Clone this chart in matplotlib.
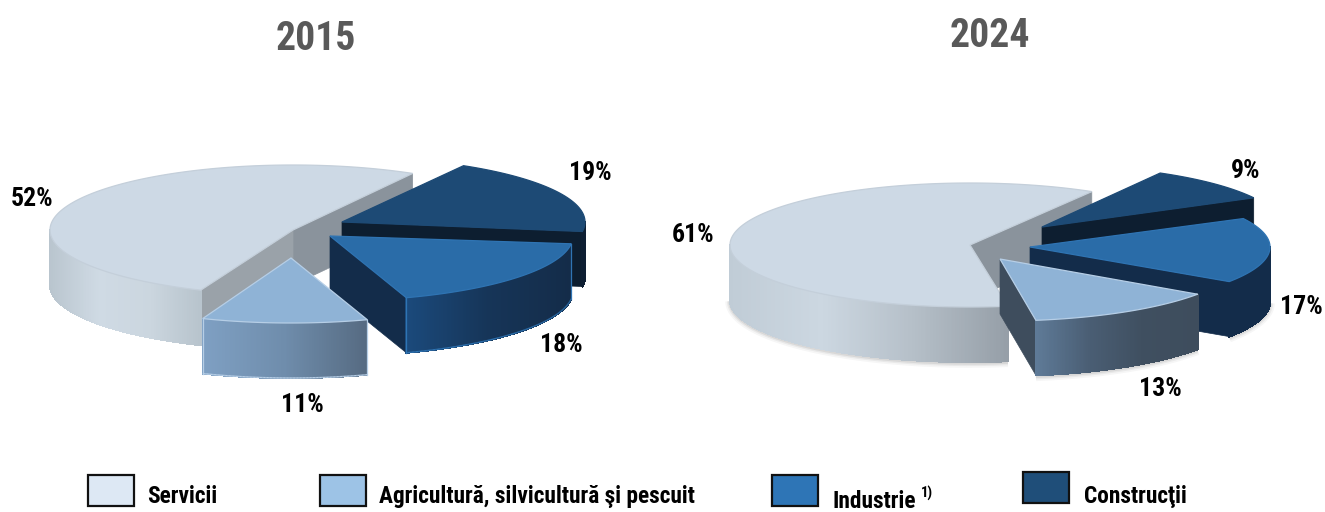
import numpy as np
import matplotlib
matplotlib.use("Agg")
import matplotlib.pyplot as plt
from matplotlib.collections import PolyCollection, LineCollection
from matplotlib.colors import LinearSegmentedColormap
from matplotlib.patches import Polygon, Rectangle

# ---- data ----
categories = ["Servicii", "Agricultură, silvicultură şi pescuit", "Industrie", "Construcţii"]
share_2015 = [52, 11, 18, 19]
share_2024 = [61, 13, 17, 9]
titles = ["2015", "2024"]
footnote = "1)"

# ---- layout / style ----
plt.rcParams["font.family"] = ["Roboto Condensed", "Liberation Sans", "DejaVu Sans"]
legend_colors = ["#dde8f4", "#9dc3e6", "#2e75b6", "#1f4e79"]
top_colors = ["#cdd9e5", "#8fb3d6", "#2a6ca8", "#1d4a75"]
top_edges = ["#c4cfda", "#b6cee6", "#2f74b3", "#1d4a75"]

pies = [
    dict(values=share_2015, center=(293, 230), rx=243, ry=65, depth=55, start=60.5,
         offsets=[(0, 0), (-2, 28), (37, 6), (49, -8)],
         nudges=[0, 1, 1, -0.5],
         sides=[["#b9c5ce", "#cfdae4", "#cbd6df", "#b8c4cd"],
                ["#7fa0c3", "#6f8dac", "#566b82"],
                ["#1b4a7c", "#163558", "#142c49"],
                ["#0e1f33", "#0e1f33"]],
         walls=[("#8a939c", "#9aa2a9"), ("#7fa0c3", "#566b82"),
                ("#132c4a", "#132c4a"), ("#0d1e30", "#0d1e30")],
         side_edges=[None, "#b6cee6", "#2f74b3", None],
         shadow=False,
         title_xy=(316, 39),
         label_xy=[(32, 199.5), (302, 405.5), (561, 345.5), (590, 173.5)]),
    dict(values=share_2024, center=(970, 245), rx=240, ry=62, depth=55, start=59,
         offsets=[(0, 0), (30, 14), (60, 2), (72, -18)],
         nudges=[0.5, 0, 0.7, 1.5],
         sides=[["#c0ccd6", "#ccd7e1", "#b5bfc8", "#969fa8"],
                ["#5f7b98", "#4a5e74", "#3f4f60", "#3e4d5d"],
                ["#132c4a", "#132c4a"],
                ["#0e1f33", "#0e1f33"]],
         walls=[("#8a939c", "#8a939c"), ("#3e4d5d", "#3e4d5d"),
                ("#132c4a", "#132c4a"), ("#0d1e30", "#0d1e30")],
         side_edges=[None, None, None, None],
         shadow=True,
         title_xy=(990, 36),
         label_xy=[(693, 235.5), (1160, 388.5), (1301, 307.5), (1246, 171.5)]),
]

legend_boxes = [(88, 475), (320, 475), (772, 475), (1023, 472)]
legend_text = [(147, 496.5), (379, 496.5), (832, 501.5), (1084, 496.5)]
BOX_W, BOX_H = 46, 31

fig = plt.figure(figsize=(13.25, 5.12), dpi=100, facecolor="white")
ax = fig.add_axes([0, 0, 1, 1])
ax.set_xlim(0, 1325)
ax.set_ylim(512, 0)
ax.axis("off")


def rim(cx, cy, rx, ry, deg):
    t = np.radians(deg)
    return cx + rx * np.cos(t), cy - ry * np.sin(t)


def draw_slice(cx, cy, rx, ry, depth, a0, a1, side_cols, wall_cols, top_col, edge_col,
               side_edge, shadow, z):
    angs = np.linspace(a0, a1, max(int((a1 - a0) * 3), 8))
    xs, ys = rim(cx, cy, rx, ry, angs)
    front = np.sin(np.radians(angs)) <= 0
    # faint soft shadow under the front rim
    if shadow and front.sum() > 1:
        for lw, alpha in ((7, 0.035), (4.5, 0.05), (2.5, 0.07)):
            ax.plot(xs[front], ys[front] + depth + 1, color="black", lw=lw, alpha=alpha,
                    solid_capstyle="butt", zorder=z - 0.1)
    # cut walls, only those that face the viewer
    for ang, visible, col in ((a0, np.cos(np.radians(a0)) > 0, wall_cols[0]),
                              (a1, np.cos(np.radians(a1)) < 0, wall_cols[1])):
        if visible:
            x, y = rim(cx, cy, rx, ry, ang)
            ax.add_patch(Polygon([(cx, cy), (x, y), (x, y + depth), (cx, cy + depth)],
                                 closed=True, fc=col, ec=col, lw=0.5, zorder=z))
    # outer rim with a horizontal gradient
    if front.sum() > 1:
        cmap = LinearSegmentedColormap.from_list("side", side_cols)
        fx, fy = xs[front], ys[front]
        lo, hi = fx.min(), fx.max()
        quads, cols, bottom = [], [], []
        for i in range(len(fx) - 1):
            quads.append([(fx[i], fy[i]), (fx[i + 1], fy[i + 1]),
                          (fx[i + 1], fy[i + 1] + depth), (fx[i], fy[i] + depth)])
            cols.append(cmap(((fx[i] + fx[i + 1]) / 2 - lo) / max(hi - lo, 1)))
            bottom.append([(fx[i], fy[i] + depth), (fx[i + 1], fy[i + 1] + depth)])
        ax.add_collection(PolyCollection(quads, facecolors=cols, edgecolors=cols,
                                         linewidths=0.8, antialiaseds=False, zorder=z + 0.1))
        ax.add_collection(LineCollection(bottom, colors=side_edge or cols, linewidths=1.0,
                                         zorder=z + 0.15))
        if side_edge:
            for j in (0, -1):
                ax.plot([fx[j], fx[j]], [fy[j], fy[j] + depth], color=side_edge, lw=0.9,
                        zorder=z + 0.15)
    # top face
    ax.add_patch(Polygon(np.column_stack([np.r_[cx, xs], np.r_[cy, ys]]), closed=True,
                         fc=top_col, ec=edge_col, lw=0.9, zorder=z + 0.2))


def draw_pie(p, base_z):
    vals = np.array(p["values"], float)
    sweep = vals / vals.sum() * 360
    edges = p["start"] + np.r_[0, np.cumsum(sweep)]
    # back to front: services, construction, industry, agriculture
    for rank, i in enumerate((0, 3, 2, 1)):
        dx, dy = p["offsets"][i]
        nudge = p["nudges"][i]
        draw_slice(p["center"][0] + dx, p["center"][1] + dy, p["rx"], p["ry"], p["depth"],
                   edges[i] + nudge, edges[i + 1] + nudge, p["sides"][i], p["walls"][i],
                   top_colors[i], top_edges[i], p["side_edges"][i], p["shadow"], base_z + rank)
    for v, (lx, ly) in zip(p["values"], p["label_xy"]):
        ax.text(lx, ly, f"{v}%", ha="center", va="center", fontsize=18.5,
                fontweight="bold", color="black", zorder=20)


for k, (p, title) in enumerate(zip(pies, titles)):
    draw_pie(p, 2 + k * 5)
    ax.text(*p["title_xy"], title, ha="center", va="center", fontsize=28.5,
            fontweight="bold", color="#595959", zorder=20)

for name, col, (bx, by), (tx, ty) in zip(categories, legend_colors, legend_boxes, legend_text):
    ax.add_patch(Rectangle((bx, by), BOX_W, BOX_H, fc=col, ec="#111111", lw=1.6, zorder=20))
    ax.text(tx, ty, name, ha="left", va="center", fontsize=16.8, fontweight="bold",
            color="black", zorder=20)
ax.text(921, 493, footnote, ha="left", va="center", fontsize=10.5, fontweight="bold",
        color="black", zorder=20)

fig.savefig("out.png", dpi=100, facecolor="white")
